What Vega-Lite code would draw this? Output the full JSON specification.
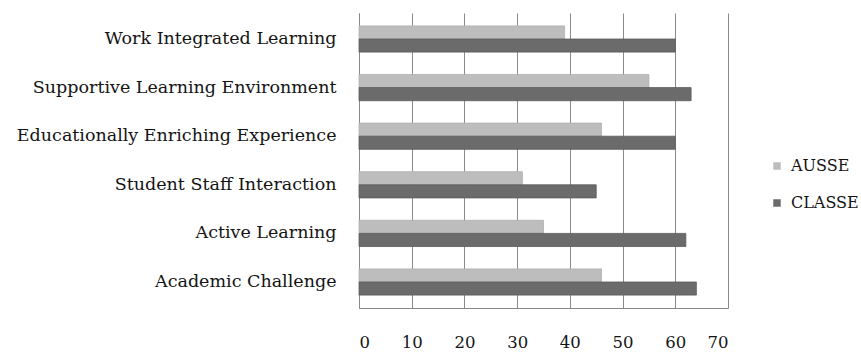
{
  "$schema": "https://vega.github.io/schema/vega-lite/v6.json",
  "width": 369,
  "height": 295,
  "autosize": "none",
  "padding": {"left": 359, "top": 13, "right": 133, "bottom": 44},
  "background": "white",
  "config": {"view": {"stroke": null}},
  "data": {
    "values": [
      {"category": "Work Integrated Learning", "series": "AUSSE", "value": 39},
      {"category": "Work Integrated Learning", "series": "CLASSE", "value": 60},
      {"category": "Supportive Learning Environment", "series": "AUSSE", "value": 55},
      {"category": "Supportive Learning Environment", "series": "CLASSE", "value": 63},
      {"category": "Educationally Enriching Experience", "series": "AUSSE", "value": 46},
      {"category": "Educationally Enriching Experience", "series": "CLASSE", "value": 60},
      {"category": "Student Staff Interaction", "series": "AUSSE", "value": 31},
      {"category": "Student Staff Interaction", "series": "CLASSE", "value": 45},
      {"category": "Active Learning", "series": "AUSSE", "value": 35},
      {"category": "Active Learning", "series": "CLASSE", "value": 62},
      {"category": "Academic Challenge", "series": "AUSSE", "value": 46},
      {"category": "Academic Challenge", "series": "CLASSE", "value": 64}
    ]
  },
  "mark": {"type": "bar", "strokeWidth": 0.8},
  "encoding": {
    "y": {
      "field": "category",
      "type": "nominal",
      "sort": ["Work Integrated Learning", "Supportive Learning Environment", "Educationally Enriching Experience", "Student Staff Interaction", "Active Learning", "Academic Challenge"],
      "scale": {"paddingInner": 0.46, "paddingOuter": 0.265},
      "axis": {
        "title": null,
        "ticks": false,
        "domain": true,
        "domainColor": "#888888",
        "labelFont": "DejaVu Serif",
        "labelFontSize": 17.5,
        "labelColor": "#141414",
        "labelPadding": 23,
        "labelLimit": 0
      }
    },
    "yOffset": {"field": "series", "sort": ["AUSSE", "CLASSE"]},
    "x": {
      "field": "value",
      "type": "quantitative",
      "scale": {"domain": [0, 70]},
      "axis": {
        "title": null,
        "values": [0, 10, 20, 30, 40, 50, 60, 70],
        "ticks": false,
        "grid": true,
        "gridColor": "#8a8a8a",
        "gridOpacity": 1,
        "domainColor": "#888888",
        "labelFont": "DejaVu Serif",
        "labelFontSize": 16.5,
        "labelColor": "#141414",
        "labelPadding": 26
      }
    },
    "color": {
      "field": "series",
      "type": "nominal",
      "scale": {"domain": ["AUSSE", "CLASSE"], "range": ["#bdbdbd", "#6b6b6b"]},
      "legend": {
        "title": null,
        "orient": "none",
        "legendX": 410,
        "legendY": 145,
        "symbolType": "square",
        "symbolSize": 56,
        "symbolStrokeWidth": 0,
        "labelFont": "DejaVu Serif",
        "labelFontSize": 16,
        "labelColor": "#141414",
        "rowPadding": 21,
        "labelOffset": 6
      }
    },
    "stroke": {
      "field": "series",
      "type": "nominal",
      "scale": {"domain": ["AUSSE", "CLASSE"], "range": ["#b0b0b0", "#5a5a5a"]},
      "legend": null
    }
  }
}
